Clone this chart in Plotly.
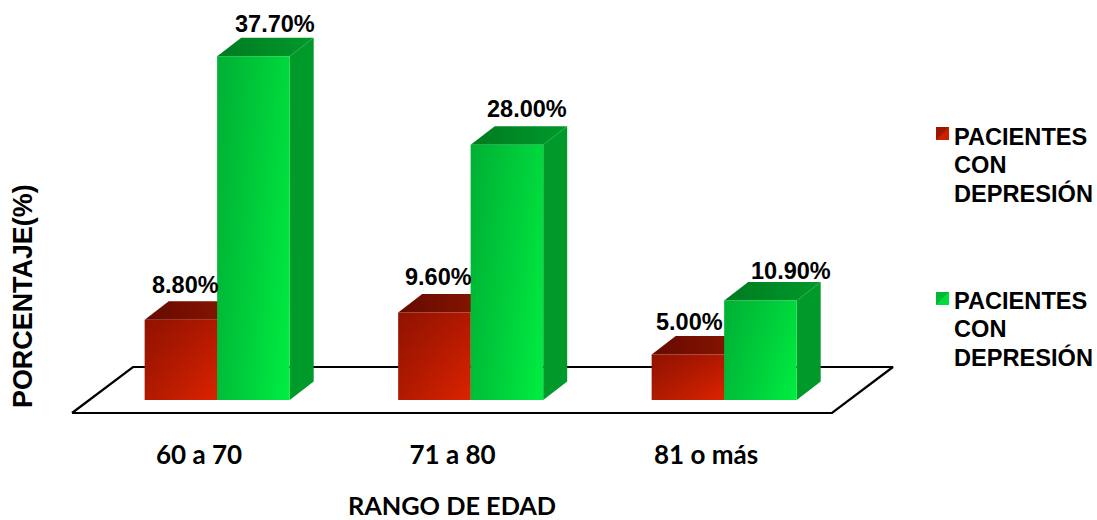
import plotly.graph_objects as go

# ---- data ----
categories = ["60 a 70", "71 a 80", "81 o más"]
red_values = [8.8, 9.6, 5.0]
green_values = [37.7, 28.0, 10.9]
red_labels = ["8.80%", "9.60%", "5.00%"]
green_labels = ["37.70%", "28.00%", "10.90%"]
series_name = ["PACIENTES", "CON", "DEPRESIÓN"]
x_title = "RANGO DE EDAD"
y_title = "PORCENTAJE(%)"

# ---- layout geometry (pixels of the page) ----
W, H = 1097, 520
PLOT_W, PLOT_H = 904, 430
CAT_PX = 253.5          # distance between categories
CAT0_PX = 199           # pixel of first category
Y0_PX = 400             # pixel of value 0
PX_PER_UNIT = 9.12
DX = 24 / CAT_PX        # depth of the 3D effect
DY = 18.5 / PX_PER_UNIT
BAR_W = 72.5 / CAT_PX
CENTER_OFF = 18.2 / CAT_PX

x_range = [-CAT0_PX / CAT_PX, (PLOT_W - CAT0_PX) / CAT_PX]
y_range = [-(PLOT_H - Y0_PX) / PX_PER_UNIT, Y0_PX / PX_PER_UNIT]


def xpx(p):
    return (p - CAT0_PX) / CAT_PX


def ypx(p):
    return (Y0_PX - p) / PX_PER_UNIT


def paper_x(p):
    return p / PLOT_W


def paper_y(p):
    return (PLOT_H - p) / PLOT_H


fig = go.Figure()

# floor
floor_x = [xpx(72), xpx(832), xpx(893), xpx(133), xpx(72)]
floor_y = [ypx(413), ypx(413), ypx(367), ypx(367), ypx(413)]
fig.add_trace(go.Scatter(x=floor_x, y=floor_y, mode="lines", fill="toself", fillcolor="white",
                         line=dict(color="black", width=2.2), hoverinfo="skip", showlegend=False))


def poly(xs, ys, name=None, **kw):
    fig.add_trace(go.Scatter(x=xs, y=ys, mode="lines", fill="toself", line=dict(width=0),
                             hoverinfo="skip", showlegend=False, **kw))


def bar3d(cat_i, left_off, value, st):
    x0 = cat_i + left_off
    x1 = x0 + BAR_W
    # side
    poly([x1, x1 + DX, x1 + DX, x1, x1], [0, DY, value + DY, value, 0], fillcolor=st["side"])
    # top
    poly([x0, x1, x1 + DX, x0 + DX, x0], [value, value, value + DY, value + DY, value],
         fillgradient=dict(type="horizontal", colorscale=[[0, st["top0"]], [1, st["top1"]]]))
    # front: bottom/top gradient, then a left/right shade over it => diagonal look
    fx, fy = [x0, x1, x1, x0, x0], [0, 0, value, value, 0]
    poly(fx, fy, fillgradient=dict(type="vertical", colorscale=[[0, st["bottom"]], [1, st["upper"]]]))
    poly(fx, fy, fillgradient=dict(type="horizontal", colorscale=[[0, st["shade"]], [1, st["clear"]]]))


RED = dict(side="#8f1200", top0="#660a00", top1="#8c1600", bottom="#dc2300", upper="#b01800",
           shade="rgba(70,5,0,0.30)", clear="rgba(70,5,0,0)")
GREEN = dict(side="#009a2b", top0="#007a20", top1="#009a2b", bottom="#00ee42", upper="#00d83c",
             shade="rgba(0,110,40,0.38)", clear="rgba(0,110,40,0)")

for i in range(len(categories)):
    bar3d(i, CENTER_OFF - BAR_W, red_values[i], RED)
    bar3d(i, CENTER_OFF, green_values[i], GREEN)

ann = []
label_font = dict(family="Liberation Sans", size=23.5, color="#000000")
# value labels, nudged by hand in pixels above each bar
red_nudge = [(5, 35), (4.5, 35), (2, 32)]
green_nudge = [(21.5, 32), (20, 36), (30.5, 30)]
for i in range(len(categories)):
    xr = i + CENTER_OFF - BAR_W / 2
    xg = i + CENTER_OFF + BAR_W / 2
    ann.append(dict(x=xr, y=red_values[i], xref="x", yref="y", text=f"<b>{red_labels[i]}</b>", showarrow=False,
                    font=label_font, xshift=red_nudge[i][0], yshift=red_nudge[i][1], xanchor="center", yanchor="middle"))
    ann.append(dict(x=xg, y=green_values[i], xref="x", yref="y", text=f"<b>{green_labels[i]}</b>", showarrow=False,
                    font=label_font, xshift=green_nudge[i][0], yshift=green_nudge[i][1], xanchor="center", yanchor="middle"))

# y title
ann.append(dict(x=paper_x(23), y=paper_y(296), xref="paper", yref="paper", text=f"<b>{y_title}</b>", showarrow=False,
                textangle=-90, font=dict(family="Liberation Sans", size=26.9, color="#000000"),
                xanchor="center", yanchor="middle"))

# legend block
shapes = []
for top_px, text_top, base, dark in [(127, 137, "#cc2000", "#7a0e00"), (292, 301, "#00dd3c", "#009a2b")]:
    x0, x1 = paper_x(936), paper_x(949)
    y0, y1 = paper_y(top_px + 13), paper_y(top_px)
    shapes.append(dict(type="rect", xref="paper", yref="paper", x0=x0, x1=x1, y0=y0, y1=y1,
                       fillcolor=base, line=dict(width=0)))
    shapes.append(dict(type="path", xref="paper", yref="paper",
                       path=f"M {x0} {y1} L {x1} {y1} L {x0} {y0} Z",
                       fillcolor=dark, opacity=0.55, line=dict(width=0)))
    for k, line in enumerate(series_name):
        ann.append(dict(x=paper_x(952), y=paper_y(text_top + 28 * k), xref="paper", yref="paper",
                        text=f"<b>{line}</b>", showarrow=False, xanchor="left", yanchor="middle",
                        font=dict(family="Liberation Sans", size=23.6, color="#000000")))

fig.update_layout(
    width=W, height=H, autosize=False,
    margin=dict(l=0, r=W - PLOT_W, t=0, b=H - PLOT_H, pad=0),
    paper_bgcolor="white", plot_bgcolor="white", showlegend=False,
    annotations=ann, shapes=shapes,
    xaxis=dict(range=x_range, showgrid=False, zeroline=False, showline=False,
               ticks="outside", ticklen=1.5, tickcolor="rgba(0,0,0,0)",
               tickmode="array", tickvals=list(range(len(categories))), ticktext=[f"<b>{c}</b>" for c in categories],
               tickfont=dict(family="Lato", size=26, color="#000000"), automargin=False,
               title=dict(text=f"<b>{x_title}</b>", font=dict(family="Lato", size=25.3, color="#000000"), standoff=38)),
    yaxis=dict(range=y_range, showgrid=False, zeroline=False, showline=False, showticklabels=False, ticks="",
               automargin=False),
)
fig.write_html("out.html", config=dict(displayModeBar=False),
               post_script="document.body.style.margin='0';document.body.style.overflow='hidden';")
